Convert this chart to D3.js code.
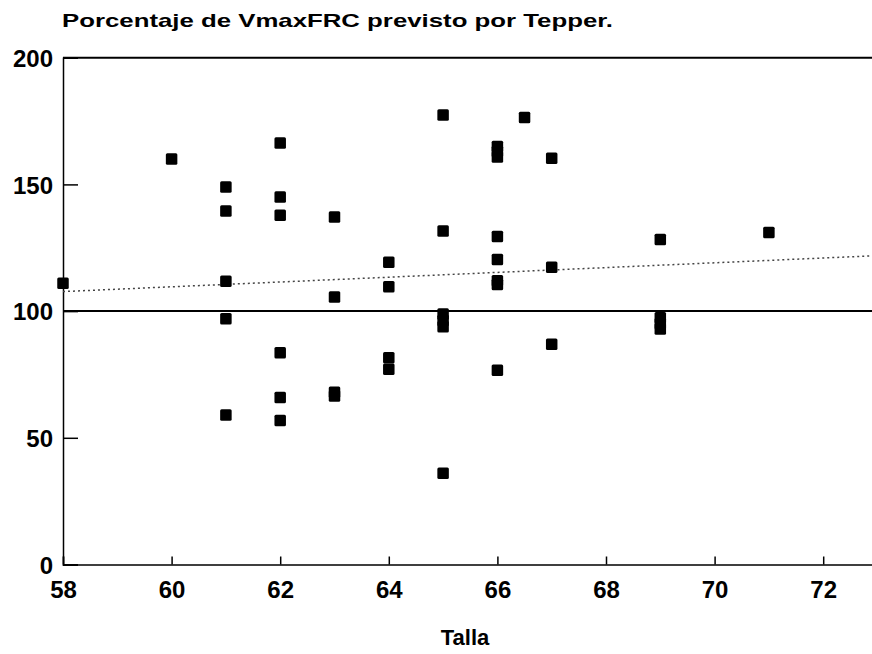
<!DOCTYPE html>
<html>
<head>
<meta charset="utf-8">
<script src="https://cdn.jsdelivr.net/npm/d3@7"></script>
<style>
  html, body { margin: 0; padding: 0; background: #fff; }
  svg { display: block; }
  text { font-family: "Liberation Sans", Arial, Helvetica, sans-serif; font-weight: bold; fill: #000; }
</style>
</head>
<body>
<svg id="chart" width="872" height="654"></svg>
<script>
// ---- data ----
const talla = [58, 60,
  61, 61, 61, 61, 61,
  62, 62, 62, 62, 62, 62,
  63, 63, 63, 63,
  64, 64, 64, 64,
  65, 65, 65, 65, 65, 65,
  66, 66, 66, 66, 66, 66, 66, 66,
  66.5,
  67, 67, 67,
  69, 69, 69, 69,
  71];
const porcentaje = [111, 160,
  149, 139.5, 111.8, 97, 59,
  166.3, 145, 137.8, 83.6, 65.9, 56.8,
  137.1, 105.6, 68, 66.5,
  119.3, 109.6, 81.6, 77.1,
  177.4, 131.6, 98.9, 96.3, 93.8, 36,
  165, 163, 160.8, 129.4, 120.4, 112, 110.5, 76.7,
  176.4,
  160.3, 117.3, 86.9,
  128.3, 97.4, 95, 92.9,
  131];
const xTicks = [58, 60, 62, 64, 66, 68, 70, 72];
const yTicks = [0, 50, 100, 150, 200];
const referenceLine = 100;
const fitX = [58, 73];
const fitY = [107.7, 121.9];
const title = "Porcentaje de VmaxFRC previsto por Tepper.";
const xLabel = "Talla";

// ---- scales ----
const svg = d3.select("#chart");
const x = d3.scaleLinear().domain([58, 73]).range([63, 877.5]);
const y = d3.scaleLinear().domain([0, 200]).range([564.5, 57.7]);

// title
svg.append("text")
  .attr("x", 62).attr("y", 27)
  .attr("font-size", 19)
  .attr("textLength", 551).attr("lengthAdjust", "spacingAndGlyphs")
  .text(title);

// x axis label
svg.append("text")
  .attr("x", 465).attr("y", 645)
  .attr("text-anchor", "middle")
  .attr("font-size", 22)
  .text(xLabel);

// frame: top line at 200
svg.append("line")
  .attr("x1", x(58)).attr("x2", 872)
  .attr("y1", y(200)).attr("y2", y(200))
  .attr("stroke", "#000").attr("stroke-width", 2);

// y axis
const yAxis = d3.axisLeft(y).tickValues(yTicks).tickSize(-15).tickPadding(10).tickFormat(d3.format("d"));
const gy = svg.append("g").attr("transform", `translate(${x(58)},0)`).call(yAxis);
gy.select(".domain").attr("stroke", "#000").attr("stroke-width", 1.5);
gy.selectAll(".tick line").attr("stroke", "#000").attr("stroke-width", 1.5);
gy.selectAll(".tick text").attr("font-size", 24).attr("font-family", "Liberation Sans, Arial, sans-serif")
  .attr("font-weight", "bold").attr("fill", "#000").attr("dy", "0.36em");

// x axis
const xAxis = d3.axisBottom(x).tickValues(xTicks).tickSize(-8).tickPadding(16).tickFormat(d3.format("d"));
const gx = svg.append("g").attr("transform", `translate(0,${y(0)})`).call(xAxis);
gx.select(".domain").attr("stroke", "#000").attr("stroke-width", 1.5);
gx.selectAll(".tick line").attr("stroke", "#000").attr("stroke-width", 1.5);
gx.selectAll(".tick text").attr("font-size", 24).attr("font-family", "Liberation Sans, Arial, sans-serif")
  .attr("font-weight", "bold").attr("fill", "#000").attr("dy", "0.71em");

// reference line at 100
svg.append("line")
  .attr("x1", x(58)).attr("x2", 872)
  .attr("y1", y(referenceLine)).attr("y2", y(referenceLine))
  .attr("stroke", "#000").attr("stroke-width", 2);

// fitted dotted line
svg.append("line")
  .attr("x1", x(fitX[0])).attr("x2", x(fitX[1]))
  .attr("y1", y(fitY[0])).attr("y2", y(fitY[1]))
  .attr("stroke", "#444").attr("stroke-width", 1.5)
  .attr("stroke-dasharray", "2,3");

// points
const pts = talla.map((t, i) => ({ t, p: porcentaje[i] }));
const s = 11.5;
svg.append("g").selectAll("rect").data(pts).join("rect")
  .attr("x", d => x(d.t) - s / 2)
  .attr("y", d => y(d.p) - s / 2)
  .attr("width", s).attr("height", s)
  .attr("rx", 1.5)
  .attr("fill", "#000");
</script>
</body>
</html>
